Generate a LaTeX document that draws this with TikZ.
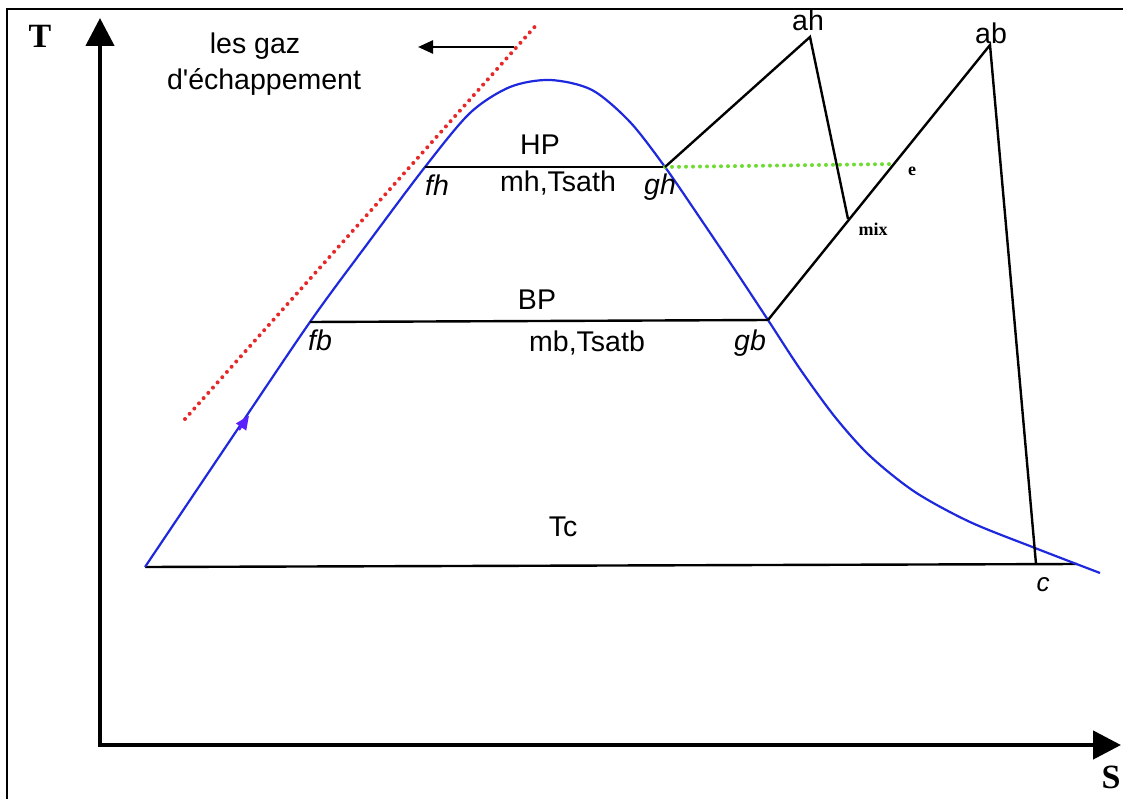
\documentclass[tikz,border=0pt]{standalone}
\usepackage{fontspec}
\setmainfont{Liberation Sans}
\newfontfamily\plainsans{Liberation Sans}
\newfontfamily\tms{Liberation Serif}
\usetikzlibrary{arrows.meta}
\definecolor{satblue}{RGB}{30,40,220}
\definecolor{dotred}{RGB}{230,40,40}
\definecolor{dotgreen}{RGB}{110,220,50}
\definecolor{markblue}{RGB}{90,30,255}
\begin{document}
\begin{tikzpicture}[x=1pt,y=-1pt,
  lbl/.style={inner sep=0pt, font=\fontsize{28.5}{30}\selectfont},
  ilbl/.style={inner sep=0pt, font=\fontsize{28.5}{30}\selectfont\itshape},
  slbl/.style={inner sep=0pt, font=\fontsize{18}{20}\selectfont\tms\bfseries},
  axlbl/.style={inner sep=0pt, font=\fontsize{34}{36}\selectfont\tms\bfseries},
  pline/.style={line width=2.4pt, black},
  axisline/.style={line width=4.5pt, {Triangle[length=28pt,width=28pt]}-{Triangle[length=28pt,width=28pt]}},
  curve/.style={line width=2.2pt, satblue},
  dotline/.style={line width=4pt, line cap=round, dash pattern=on 0pt off 7pt},
]
\useasboundingbox (0,0) rectangle (1123,799);
% frame
\draw[line width=2pt] (7,799) -- (7,9) -- (1123,9);
% axes
\coordinate (ytip) at (100,18);
\coordinate (orig) at (100,745);
\coordinate (xtip) at (1121,745);
\draw[axisline] (ytip) -- (orig) -- (xtip);
\node[axlbl] (T) at (40,36) {T};
\node[axlbl] (S) at (1111,777) {S};

% key points
\coordinate (o) at (145,567);
\coordinate (fb) at (310,322);
\coordinate (fh) at (425,167);
\coordinate (gh) at (665,167);
\coordinate (gb) at (768,320);
\coordinate (ah) at (810,37);
\coordinate (ab) at (990,45);
\coordinate (mix) at (848,219);
\coordinate (e) at (895,164);
\coordinate (c) at (1036,564);
\coordinate (tcend) at (1077,564);

% exhaust gas line and arrow
\coordinate (r1) at (185,419);
\coordinate (r2) at (539,22);
\draw[dotline, dotred] (r1) -- (r2);
\coordinate (g1) at (514,47);
\coordinate (g2) at (418,47);
\draw[line width=2.5pt, -{Triangle[length=15pt,width=13pt]}] (g1) -- (g2);
\node[lbl] (gaz1) at (255,46) {les gaz};
\node[lbl, font=\fontsize{28.5}{30}\plainsans] (gaz2) at (264,82) {d'échappement};

% condenser line
\draw[pline] (o) -- (tcend);

% saturation curve
\draw[curve] plot[smooth, tension=0.5] coordinates {(145,567) (227,445) (310,322) (368,243) (425,167) (470,113) (510,87) (550,80) (592,90) (630,122) (665,167) (700,218) (735,270) (768,320) (800,369) (835,417) (870,456) (915,492) (970,522) (1035,548) (1100,573)};
\coordinate (m1) at (239,430);
\coordinate (m2) at (249,415.5);
\draw[markblue, line width=2.2pt, -{Triangle[length=14pt,width=12pt]}] (m1) -- (m2);

% evaporation lines
\draw[pline] (fh) -- (gh);
\draw[pline] (fb) -- (gb);
\draw[dotline, dotgreen] (gh) -- (e);

% superheat and expansion
\draw[pline] (gh) -- (ah) -- (mix);
\draw[pline] (gb) -- (ab) -- (c);

% labels
\node[lbl] (HP) at (540,145) {HP};
\node[lbl] (mh) at (558,183) {mh,Tsath};
\node[ilbl] (fhl) at (437,185) {fh};
\node[ilbl] (ghl) at (660,187) {gh};
\node[lbl] (BP) at (537,300) {BP};
\node[lbl] (mb) at (587,343) {mb,Tsatb};
\node[ilbl] (fbl) at (320,340) {fb};
\node[ilbl] (gbl) at (750,343) {gb};
\node[lbl] (Tc) at (563,527) {Tc};
\node[lbl] (ahl) at (808,20) {ah};
\node[lbl] (abl) at (991,33) {ab};
\node[slbl] (el) at (912,171) {e};
\node[slbl] (mixl) at (873,229) {mix};
\node[ilbl, font=\fontsize{26}{28}\selectfont\itshape] (cl) at (1043,585) {c};
\end{tikzpicture}
\end{document}
